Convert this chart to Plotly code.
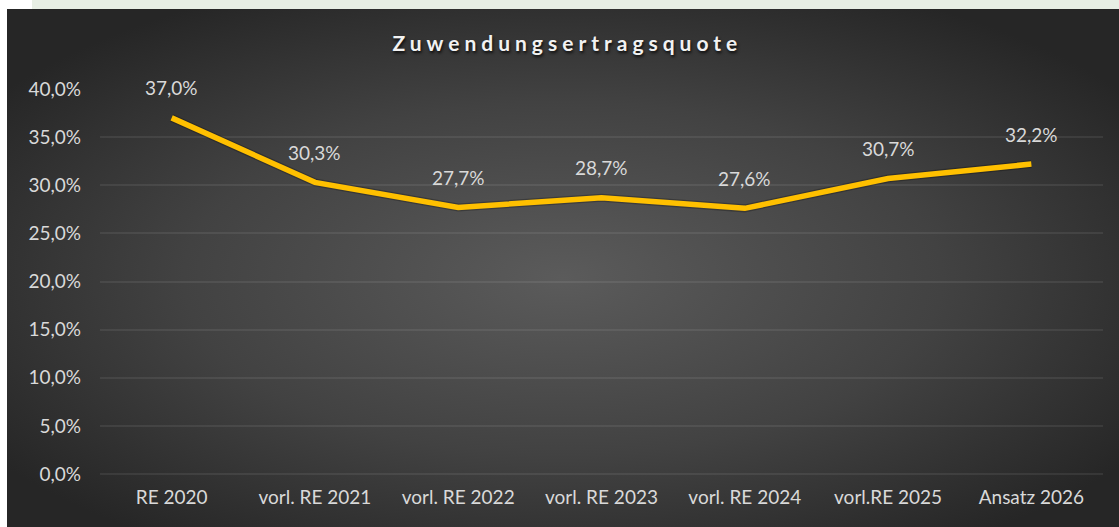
import base64
import plotly.graph_objects as go

categories = ["RE 2020", "vorl. RE 2021", "vorl. RE 2022", "vorl. RE 2023",
              "vorl. RE 2024", "vorl.RE 2025", "Ansatz 2026"]
quote = [37.0, 30.3, 27.7, 28.7, 27.6, 30.7, 32.2]
y_ticks = [0, 5, 10, 15, 20, 25, 30, 35, 40]
title_text = "Zuwendungsertragsquote"


def pct(v):
    return f"{v:.1f}".replace(".", ",") + "%"


W, H = 1119, 527
ML, MR, MT, MB = 100, 16, 89, 53
pw, ph = W - ML - MR, H - MT - MB

svg = f'''<svg xmlns="http://www.w3.org/2000/svg" width="{W}" height="{H}" viewBox="0 0 {W} {H}" preserveAspectRatio="none">
<defs><radialGradient id="g" cx="50%" cy="52%" r="62%" fx="50%" fy="52%">
<stop offset="0%" stop-color="#5b5b5b"/><stop offset="55%" stop-color="#424242"/><stop offset="100%" stop-color="#262626"/></radialGradient></defs>
<rect x="0" y="0" width="{W}" height="{H}" fill="#ffffff"/>
<rect x="32" y="0" width="{W-32}" height="9" fill="#e7eee4"/>
<rect x="7" y="9" width="{W-7}" height="{H-9}" fill="url(#g)"/>
</svg>'''
src = "data:image/svg+xml;base64," + base64.b64encode(svg.encode()).decode()

fig = go.Figure()
# soft shadow
fig.add_trace(go.Scatter(x=categories, y=quote, mode="lines",
                         line=dict(color="rgba(0,0,0,0.25)", width=8),
                         hoverinfo="skip", showlegend=False))
fig.add_trace(go.Scatter(x=categories, y=quote, mode="lines",
                         line=dict(color="#FFC000", width=5.5),
                         showlegend=False))

for c, v in zip(categories, quote):
    fig.add_annotation(x=c, y=v, text=pct(v),
                       showarrow=False, yshift=30,
                       font=dict(family="Lato", size=19, color="#d9d9d9"))

fig.add_layout_image(dict(source=src, xref="paper", yref="paper",
                          x=-ML / pw, y=1 + MT / ph, sizex=W / pw, sizey=H / ph,
                          xanchor="left", yanchor="top", sizing="stretch",
                          layer="below"))

fig.update_layout(
    width=W, height=H,
    margin=dict(l=ML, r=MR, t=MT, b=MB),
    paper_bgcolor="#ffffff",
    plot_bgcolor="rgba(0,0,0,0)",
    title=dict(text=f'<span style="letter-spacing:5px">{title_text}</span>',
               x=0.507, xanchor="center", y=1 - 44 / H, yanchor="middle",
               font=dict(family="Lato", size=21, color="#f2f2f2", weight="bold",
                         shadow="1px 2px 3px rgba(0,0,0,0.8)")),
    xaxis=dict(type="category", range=[-0.5, 6.5], showgrid=False, zeroline=False,
               showline=False, ticks="", ticklabelstandoff=10,
               tickfont=dict(family="Lato", size=19, color="#d9d9d9")),
    yaxis=dict(range=[0, 40], tickvals=y_ticks, ticktext=[pct(t) for t in y_ticks],
               showgrid=True, gridcolor="rgba(255,255,255,0.075)", gridwidth=1.5,
               zeroline=True, zerolinecolor="rgba(255,255,255,0.075)", zerolinewidth=1.5,
               showline=False, ticks="", ticklabelstandoff=18,
               tickfont=dict(family="Lato", size=19, color="#d9d9d9")),
)

fig.write_html("out.html", config={"displayModeBar": False},
               post_script="document.body.style.margin='0';document.body.style.overflow='hidden';")
